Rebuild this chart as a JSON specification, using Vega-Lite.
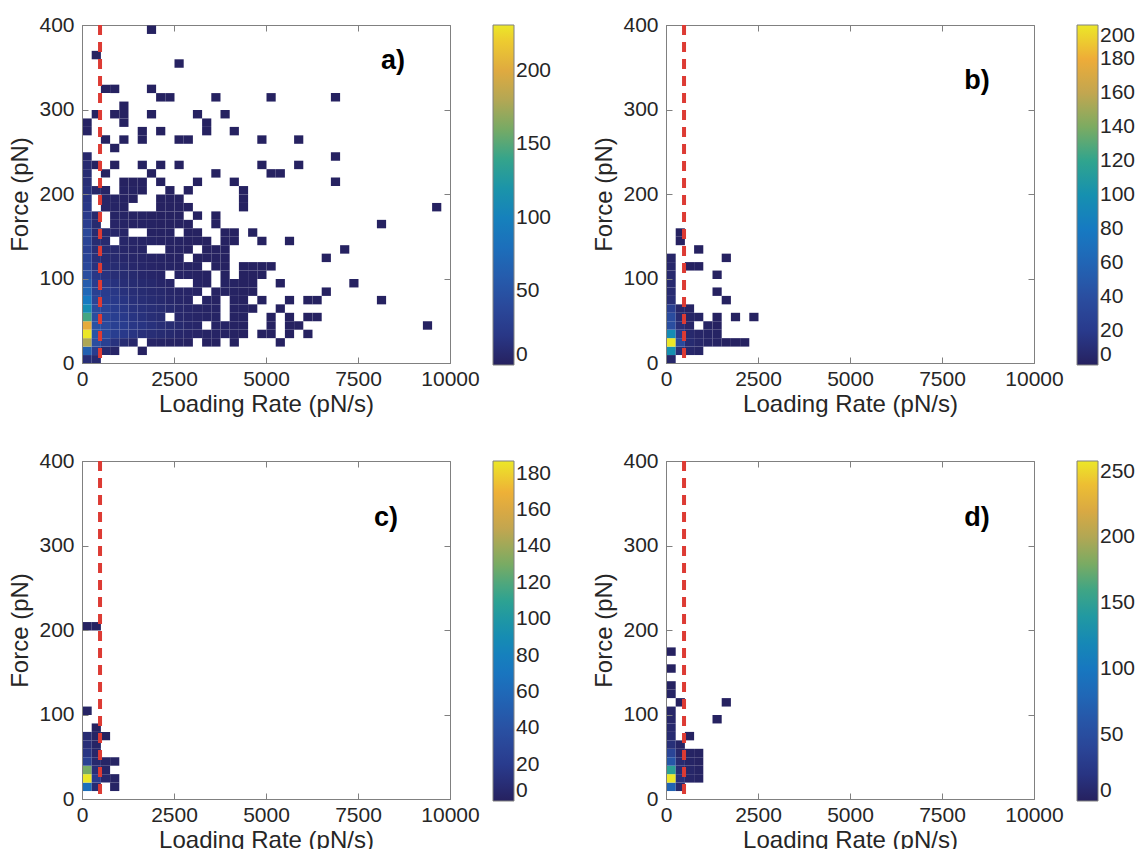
{
"$schema": "https://vega.github.io/schema/vega-lite/v6.json",
"padding": {"left": 8, "top": 13, "right": 0, "bottom": 0},
"background": "white",
"datasets": {
"a": [
{"x":0,"y":0,"n":12},{"x":250,"y":0,"n":8},
{"x":0,"y":10,"n":65},{"x":250,"y":10,"n":25},{"x":500,"y":10,"n":8},{"x":750,"y":10,"n":4},{"x":1500,"y":10,"n":1},
{"x":0,"y":20,"n":178},{"x":250,"y":20,"n":45},{"x":500,"y":20,"n":30},{"x":750,"y":20,"n":16},{"x":1000,"y":20,"n":10},{"x":1250,"y":20,"n":6},{"x":1750,"y":20,"n":4},{"x":2000,"y":20,"n":3},{"x":2250,"y":20,"n":2},{"x":2500,"y":20,"n":2},{"x":2750,"y":20,"n":1},{"x":3250,"y":20,"n":1},{"x":3500,"y":20,"n":1},{"x":4000,"y":20,"n":1},{"x":5250,"y":20,"n":1},
{"x":0,"y":30,"n":231},{"x":250,"y":30,"n":52},{"x":500,"y":30,"n":42},{"x":750,"y":30,"n":28},{"x":1000,"y":30,"n":22},{"x":1250,"y":30,"n":18},{"x":1500,"y":30,"n":14},{"x":1750,"y":30,"n":12},{"x":2000,"y":30,"n":10},{"x":2250,"y":30,"n":8},{"x":2500,"y":30,"n":6},{"x":2750,"y":30,"n":5},{"x":3000,"y":30,"n":4},{"x":3250,"y":30,"n":3},{"x":3500,"y":30,"n":3},{"x":3750,"y":30,"n":2},{"x":4000,"y":30,"n":2},{"x":4250,"y":30,"n":1},{"x":4750,"y":30,"n":1},{"x":5000,"y":30,"n":1},{"x":5500,"y":30,"n":1},{"x":6000,"y":30,"n":1},
{"x":0,"y":40,"n":203},{"x":250,"y":40,"n":48},{"x":500,"y":40,"n":40},{"x":750,"y":40,"n":30},{"x":1000,"y":40,"n":25},{"x":1250,"y":40,"n":20},{"x":1500,"y":40,"n":18},{"x":1750,"y":40,"n":15},{"x":2000,"y":40,"n":12},{"x":2250,"y":40,"n":10},{"x":2500,"y":40,"n":8},{"x":2750,"y":40,"n":6},{"x":3000,"y":40,"n":5},{"x":3500,"y":40,"n":3},{"x":3750,"y":40,"n":3},{"x":4000,"y":40,"n":2},{"x":4250,"y":40,"n":2},{"x":5000,"y":40,"n":1},{"x":5500,"y":40,"n":1},{"x":5750,"y":40,"n":1},{"x":9250,"y":40,"n":1},
{"x":0,"y":50,"n":145},{"x":250,"y":50,"n":45},{"x":500,"y":50,"n":35},{"x":750,"y":50,"n":28},{"x":1000,"y":50,"n":22},{"x":1250,"y":50,"n":18},{"x":1500,"y":50,"n":15},{"x":1750,"y":50,"n":12},{"x":2000,"y":50,"n":10},{"x":2500,"y":50,"n":6},{"x":2750,"y":50,"n":5},{"x":3000,"y":50,"n":4},{"x":3250,"y":50,"n":3},{"x":3500,"y":50,"n":3},{"x":4000,"y":50,"n":2},{"x":4250,"y":50,"n":2},{"x":5000,"y":50,"n":1},{"x":5500,"y":50,"n":1},{"x":6000,"y":50,"n":1},{"x":6250,"y":50,"n":1},
{"x":0,"y":60,"n":112},{"x":250,"y":60,"n":42},{"x":500,"y":60,"n":35},{"x":750,"y":60,"n":25},{"x":1000,"y":60,"n":20},{"x":1250,"y":60,"n":16},{"x":1500,"y":60,"n":14},{"x":1750,"y":60,"n":12},{"x":2000,"y":60,"n":10},{"x":2250,"y":60,"n":8},{"x":2500,"y":60,"n":6},{"x":2750,"y":60,"n":5},{"x":3000,"y":60,"n":4},{"x":3250,"y":60,"n":3},{"x":3500,"y":60,"n":3},{"x":4000,"y":60,"n":2},{"x":4250,"y":60,"n":2},{"x":4500,"y":60,"n":1},{"x":5250,"y":60,"n":1},
{"x":0,"y":70,"n":92},{"x":250,"y":70,"n":35},{"x":500,"y":70,"n":28},{"x":750,"y":70,"n":22},{"x":1000,"y":70,"n":18},{"x":1250,"y":70,"n":14},{"x":1500,"y":70,"n":12},{"x":1750,"y":70,"n":10},{"x":2000,"y":70,"n":8},{"x":2250,"y":70,"n":6},{"x":2500,"y":70,"n":5},{"x":2750,"y":70,"n":4},{"x":3250,"y":70,"n":3},{"x":3500,"y":70,"n":2},{"x":4000,"y":70,"n":2},{"x":4250,"y":70,"n":1},{"x":4750,"y":70,"n":1},{"x":5500,"y":70,"n":1},{"x":6000,"y":70,"n":1},{"x":6250,"y":70,"n":1},{"x":8000,"y":70,"n":1},
{"x":0,"y":80,"n":72},{"x":250,"y":80,"n":30},{"x":500,"y":80,"n":25},{"x":750,"y":80,"n":20},{"x":1000,"y":80,"n":15},{"x":1250,"y":80,"n":12},{"x":1500,"y":80,"n":10},{"x":1750,"y":80,"n":8},{"x":2000,"y":80,"n":7},{"x":2250,"y":80,"n":5},{"x":2500,"y":80,"n":4},{"x":2750,"y":80,"n":4},{"x":3000,"y":80,"n":3},{"x":3500,"y":80,"n":2},{"x":3750,"y":80,"n":2},{"x":4000,"y":80,"n":2},{"x":4250,"y":80,"n":1},{"x":4500,"y":80,"n":1},{"x":6500,"y":80,"n":1},
{"x":0,"y":90,"n":60},{"x":250,"y":90,"n":25},{"x":500,"y":90,"n":20},{"x":750,"y":90,"n":16},{"x":1000,"y":90,"n":12},{"x":1250,"y":90,"n":10},{"x":1500,"y":90,"n":8},{"x":1750,"y":90,"n":7},{"x":2000,"y":90,"n":5},{"x":2250,"y":90,"n":4},{"x":3000,"y":90,"n":3},{"x":3250,"y":90,"n":2},{"x":3750,"y":90,"n":2},{"x":4000,"y":90,"n":2},{"x":4250,"y":90,"n":1},{"x":4500,"y":90,"n":1},{"x":5250,"y":90,"n":1},{"x":7250,"y":90,"n":1},
{"x":0,"y":100,"n":45},{"x":250,"y":100,"n":20},{"x":500,"y":100,"n":16},{"x":750,"y":100,"n":12},{"x":1000,"y":100,"n":10},{"x":1250,"y":100,"n":8},{"x":1500,"y":100,"n":6},{"x":1750,"y":100,"n":5},{"x":2000,"y":100,"n":4},{"x":2500,"y":100,"n":3},{"x":2750,"y":100,"n":3},{"x":3000,"y":100,"n":2},{"x":3250,"y":100,"n":2},{"x":3750,"y":100,"n":1},{"x":4250,"y":100,"n":1},{"x":4500,"y":100,"n":1},{"x":4750,"y":100,"n":1},
{"x":0,"y":110,"n":38},{"x":250,"y":110,"n":16},{"x":500,"y":110,"n":12},{"x":750,"y":110,"n":10},{"x":1000,"y":110,"n":8},{"x":1250,"y":110,"n":6},{"x":1500,"y":110,"n":5},{"x":1750,"y":110,"n":4},{"x":2000,"y":110,"n":3},{"x":2250,"y":110,"n":3},{"x":2500,"y":110,"n":2},{"x":2750,"y":110,"n":2},{"x":3000,"y":110,"n":2},{"x":3500,"y":110,"n":1},{"x":3750,"y":110,"n":1},{"x":4250,"y":110,"n":1},{"x":4500,"y":110,"n":1},{"x":4750,"y":110,"n":1},{"x":5000,"y":110,"n":1},
{"x":0,"y":120,"n":33},{"x":250,"y":120,"n":14},{"x":500,"y":120,"n":10},{"x":750,"y":120,"n":8},{"x":1000,"y":120,"n":6},{"x":1250,"y":120,"n":5},{"x":1500,"y":120,"n":4},{"x":1750,"y":120,"n":3},{"x":2000,"y":120,"n":3},{"x":2250,"y":120,"n":2},{"x":2500,"y":120,"n":2},{"x":3000,"y":120,"n":1},{"x":3250,"y":120,"n":1},{"x":3500,"y":120,"n":1},{"x":3750,"y":120,"n":1},{"x":6500,"y":120,"n":1},
{"x":0,"y":130,"n":30},{"x":250,"y":130,"n":12},{"x":500,"y":130,"n":9},{"x":750,"y":130,"n":7},{"x":1000,"y":130,"n":5},{"x":1250,"y":130,"n":4},{"x":1500,"y":130,"n":3},{"x":2250,"y":130,"n":2},{"x":2500,"y":130,"n":2},{"x":2750,"y":130,"n":1},{"x":3250,"y":130,"n":1},{"x":3500,"y":130,"n":1},{"x":3750,"y":130,"n":1},{"x":7000,"y":130,"n":1},
{"x":0,"y":140,"n":33},{"x":250,"y":140,"n":10},{"x":500,"y":140,"n":8},{"x":1000,"y":140,"n":5},{"x":1250,"y":140,"n":4},{"x":1500,"y":140,"n":3},{"x":1750,"y":140,"n":3},{"x":2000,"y":140,"n":2},{"x":2250,"y":140,"n":2},{"x":2500,"y":140,"n":2},{"x":2750,"y":140,"n":1},{"x":3000,"y":140,"n":1},{"x":3250,"y":140,"n":1},{"x":3750,"y":140,"n":1},{"x":4000,"y":140,"n":1},{"x":4750,"y":140,"n":1},{"x":5500,"y":140,"n":1},
{"x":0,"y":150,"n":38},{"x":250,"y":150,"n":9},{"x":500,"y":150,"n":7},{"x":750,"y":150,"n":5},{"x":1000,"y":150,"n":4},{"x":1750,"y":150,"n":2},{"x":2000,"y":150,"n":2},{"x":2250,"y":150,"n":2},{"x":2750,"y":150,"n":1},{"x":3000,"y":150,"n":1},{"x":3750,"y":150,"n":1},{"x":4000,"y":150,"n":1},{"x":4500,"y":150,"n":1},
{"x":0,"y":160,"n":25},{"x":250,"y":160,"n":8},{"x":750,"y":160,"n":4},{"x":1000,"y":160,"n":3},{"x":1250,"y":160,"n":2},{"x":1500,"y":160,"n":2},{"x":1750,"y":160,"n":2},{"x":2000,"y":160,"n":1},{"x":2250,"y":160,"n":1},{"x":2500,"y":160,"n":1},{"x":2750,"y":160,"n":1},{"x":3500,"y":160,"n":1},{"x":8000,"y":160,"n":1},
{"x":0,"y":170,"n":22},{"x":250,"y":170,"n":7},{"x":750,"y":170,"n":3},{"x":1000,"y":170,"n":3},{"x":1250,"y":170,"n":2},{"x":1500,"y":170,"n":2},{"x":1750,"y":170,"n":1},{"x":2000,"y":170,"n":1},{"x":2250,"y":170,"n":1},{"x":2500,"y":170,"n":1},{"x":3000,"y":170,"n":1},{"x":3500,"y":170,"n":1},
{"x":0,"y":180,"n":20},{"x":500,"y":180,"n":4},{"x":750,"y":180,"n":3},{"x":1000,"y":180,"n":2},{"x":2000,"y":180,"n":1},{"x":2250,"y":180,"n":1},{"x":2500,"y":180,"n":1},{"x":2750,"y":180,"n":1},{"x":4250,"y":180,"n":1},{"x":9500,"y":180,"n":1},
{"x":0,"y":190,"n":18},{"x":500,"y":190,"n":4},{"x":750,"y":190,"n":3},{"x":1000,"y":190,"n":2},{"x":1250,"y":190,"n":1},{"x":2000,"y":190,"n":1},{"x":2250,"y":190,"n":1},{"x":2500,"y":190,"n":1},{"x":4250,"y":190,"n":1},
{"x":0,"y":200,"n":15},{"x":250,"y":200,"n":5},{"x":500,"y":200,"n":3},{"x":1000,"y":200,"n":2},{"x":1250,"y":200,"n":2},{"x":1500,"y":200,"n":1},{"x":2250,"y":200,"n":1},{"x":2750,"y":200,"n":1},{"x":4250,"y":200,"n":1},
{"x":0,"y":210,"n":12},{"x":1000,"y":210,"n":1},{"x":1250,"y":210,"n":1},{"x":1500,"y":210,"n":1},{"x":2000,"y":210,"n":1},{"x":3000,"y":210,"n":1},{"x":4000,"y":210,"n":1},{"x":6750,"y":210,"n":1},
{"x":0,"y":220,"n":10},{"x":500,"y":220,"n":1},{"x":1750,"y":220,"n":1},{"x":3500,"y":220,"n":1},{"x":5000,"y":220,"n":1},{"x":5250,"y":220,"n":1},
{"x":0,"y":230,"n":8},{"x":250,"y":230,"n":1},{"x":750,"y":230,"n":1},{"x":1500,"y":230,"n":1},{"x":2000,"y":230,"n":1},{"x":2500,"y":230,"n":1},{"x":4750,"y":230,"n":1},{"x":5750,"y":230,"n":1},
{"x":0,"y":240,"n":6},{"x":6750,"y":240,"n":1},
{"x":750,"y":250,"n":1},
{"x":500,"y":260,"n":1},{"x":1000,"y":260,"n":1},{"x":1500,"y":260,"n":1},{"x":2500,"y":260,"n":1},{"x":2750,"y":260,"n":1},{"x":4750,"y":260,"n":1},{"x":5750,"y":260,"n":1},
{"x":0,"y":270,"n":2},{"x":1500,"y":270,"n":1},{"x":2000,"y":270,"n":1},{"x":3250,"y":270,"n":1},{"x":4000,"y":270,"n":1},
{"x":0,"y":280,"n":2},{"x":1000,"y":280,"n":1},{"x":3250,"y":280,"n":1},
{"x":250,"y":290,"n":1},{"x":750,"y":290,"n":1},{"x":1000,"y":290,"n":1},{"x":1750,"y":290,"n":1},{"x":3000,"y":290,"n":1},{"x":3750,"y":290,"n":1},
{"x":1000,"y":300,"n":1},
{"x":2000,"y":310,"n":1},{"x":2250,"y":310,"n":1},{"x":3500,"y":310,"n":1},{"x":5000,"y":310,"n":1},{"x":6750,"y":310,"n":1},
{"x":500,"y":320,"n":1},{"x":750,"y":320,"n":1},{"x":1750,"y":320,"n":1},
{"x":2500,"y":350,"n":1},
{"x":250,"y":360,"n":1},
{"x":1750,"y":390,"n":1}
],
"b": [
{"x":0,"y":0,"n":5},
{"x":0,"y":10,"n":100},{"x":250,"y":10,"n":10},{"x":500,"y":10,"n":5},{"x":750,"y":10,"n":3},
{"x":0,"y":20,"n":200},{"x":250,"y":20,"n":35},{"x":500,"y":20,"n":8},{"x":750,"y":20,"n":5},{"x":1000,"y":20,"n":3},{"x":1250,"y":20,"n":2},{"x":1500,"y":20,"n":1},{"x":1750,"y":20,"n":1},{"x":2000,"y":20,"n":1},
{"x":0,"y":30,"n":95},{"x":250,"y":30,"n":20},{"x":500,"y":30,"n":6},{"x":750,"y":30,"n":4},{"x":1000,"y":30,"n":3},{"x":1250,"y":30,"n":2},
{"x":0,"y":40,"n":40},{"x":250,"y":40,"n":10},{"x":500,"y":40,"n":4},{"x":1000,"y":40,"n":2},{"x":1250,"y":40,"n":1},
{"x":0,"y":50,"n":38},{"x":250,"y":50,"n":8},{"x":500,"y":50,"n":3},{"x":750,"y":50,"n":2},{"x":1250,"y":50,"n":1},{"x":1750,"y":50,"n":1},{"x":2250,"y":50,"n":1},
{"x":0,"y":60,"n":25},{"x":250,"y":60,"n":5},{"x":500,"y":60,"n":2},
{"x":0,"y":70,"n":10},{"x":1500,"y":70,"n":1},
{"x":0,"y":80,"n":8},{"x":1250,"y":80,"n":1},
{"x":0,"y":90,"n":7},
{"x":0,"y":100,"n":6},{"x":1250,"y":100,"n":1},
{"x":0,"y":110,"n":5},{"x":500,"y":110,"n":1},{"x":750,"y":110,"n":1},
{"x":0,"y":120,"n":4},{"x":1500,"y":120,"n":1},
{"x":750,"y":130,"n":1},
{"x":250,"y":140,"n":1},
{"x":250,"y":150,"n":1}
],
"c": [
{"x":0,"y":10,"n":65},{"x":250,"y":10,"n":8},{"x":750,"y":10,"n":2},
{"x":0,"y":20,"n":187},{"x":250,"y":20,"n":20},{"x":500,"y":20,"n":5},{"x":750,"y":20,"n":2},
{"x":0,"y":30,"n":130},{"x":250,"y":30,"n":10},{"x":500,"y":30,"n":3},
{"x":0,"y":40,"n":25},{"x":250,"y":40,"n":6},{"x":500,"y":40,"n":3},{"x":750,"y":40,"n":2},
{"x":0,"y":50,"n":15},{"x":250,"y":50,"n":4},
{"x":0,"y":60,"n":10},{"x":250,"y":60,"n":3},
{"x":0,"y":70,"n":8},{"x":250,"y":70,"n":2},{"x":500,"y":70,"n":1},
{"x":250,"y":80,"n":1},
{"x":0,"y":100,"n":2},
{"x":0,"y":200,"n":1},{"x":250,"y":200,"n":1}
],
"d": [
{"x":0,"y":10,"n":75},{"x":250,"y":10,"n":8},
{"x":0,"y":20,"n":258},{"x":250,"y":20,"n":15},{"x":500,"y":20,"n":5},{"x":750,"y":20,"n":3},
{"x":0,"y":30,"n":150},{"x":250,"y":30,"n":12},{"x":500,"y":30,"n":6},{"x":750,"y":30,"n":3},
{"x":0,"y":40,"n":62},{"x":250,"y":40,"n":10},{"x":500,"y":40,"n":4},{"x":750,"y":40,"n":2},
{"x":0,"y":50,"n":40},{"x":250,"y":50,"n":6},{"x":500,"y":50,"n":3},{"x":750,"y":50,"n":2},
{"x":0,"y":60,"n":15},{"x":250,"y":60,"n":3},
{"x":0,"y":70,"n":10},{"x":500,"y":70,"n":1},
{"x":0,"y":80,"n":8},
{"x":0,"y":90,"n":6},{"x":1250,"y":90,"n":1},
{"x":0,"y":100,"n":5},
{"x":250,"y":110,"n":1},{"x":1500,"y":110,"n":1},
{"x":0,"y":120,"n":3},
{"x":0,"y":130,"n":2},
{"x":0,"y":150,"n":1},
{"x":0,"y":170,"n":1}
],
"rule": [{"r": 490}]
},
"config": {
"font": "Liberation Sans",
"view": {"stroke": "#808080", "strokeWidth": 1},
"axis": {"labelFont": "Liberation Sans", "titleFont": "Liberation Sans", "labelFontSize": 21, "titleFontSize": 24, "titleFontWeight": "normal", "labelColor": "#262626", "titleColor": "#262626", "domainColor": "#808080", "tickColor": "#808080", "tickSize": -6, "grid": false, "labelFlush": false, "labelOverlap": false},
"axisX": {"labelPadding": 11, "titlePadding": 3},
"axisY": {"labelPadding": 14, "titlePadding": 6},
"legend": {"orient": "right", "offset": 42, "gradientLength": 340, "gradientThickness": 21, "labelFontSize": 21, "labelFont": "Liberation Sans", "labelColor": "#262626", "gradientStrokeColor": "#808080", "gradientStrokeWidth": 1, "labelOffset": 6, "labelBaseline": "middle", "padding": 0, "titleFontSize": 1, "labelOverlap": false}
},
"columns": 2,
"spacing": {"row": 32, "column": 39},
"resolve": {"scale": {"color": "independent", "x": "independent", "y": "independent"}, "legend": {"color": "independent"}},
"concat": [
{"width": 368, "height": 338, "resolve": {"axis": {"x": "independent", "y": "independent"}}, "layer": [
 {"data": {"name": "a"}, "mark": {"type": "rect", "binSpacing": 0},
  "encoding": {
   "x": {"field": "x", "type": "quantitative", "bin": {"binned": true, "step": 250}, "scale": {"domain": [0, 10000], "nice": false, "zero": false}, "axis": {"values": [0, 2500, 5000, 7500, 10000], "format": "d"}, "title": "Loading Rate (pN/s)"},
   "y": {"field": "y", "type": "quantitative", "bin": {"binned": true, "step": 10}, "scale": {"domain": [0, 400], "nice": false, "zero": false}, "axis": {"values": [0, 100, 200, 300, 400]}, "title": "Force (pN)"},
   "color": {"field": "n", "type": "quantitative", "title": null, "scale": {"domain": [0, 23.1, 46.2, 69.3, 92.4, 115.5, 138.6, 161.7, 184.8, 207.9, 231], "range": ["#26215f", "#293a8c", "#2a4ea0", "#2165b5", "#167ac2", "#1690b0", "#30a48e", "#7cab62", "#c2a650", "#eeac38", "#ece728"], "interpolate": "rgb"}, "legend": {"values": [0, 50, 100, 150, 200], "format": "d"}}
  }},
 {"data": {"name": "rule"}, "mark": {"type": "rule", "color": "#dd3b34", "strokeWidth": 4, "strokeDash": [10, 7]}, "encoding": {"x": {"field": "r", "type": "quantitative", "title": null, "axis": {"orient": "top", "labels": false, "domain": false, "values": [0, 2500, 5000, 7500, 10000]}}}},
 {"data": {"values": [{"t": "a)", "lx": 8450, "ly": 357}]}, "mark": {"type": "text", "fontSize": 27, "fontWeight": "bold", "color": "#000000", "font": "Liberation Sans"}, "encoding": {"x": {"field": "lx", "type": "quantitative", "axis": null}, "y": {"field": "ly", "type": "quantitative", "title": null, "axis": {"orient": "right", "labels": false, "domain": false, "values": [0, 100, 200, 300, 400]}}, "text": {"field": "t"}}}
]},
{"width": 368, "height": 338, "resolve": {"axis": {"x": "independent", "y": "independent"}}, "layer": [
 {"data": {"name": "b"}, "mark": {"type": "rect", "binSpacing": 0},
  "encoding": {
   "x": {"field": "x", "type": "quantitative", "bin": {"binned": true, "step": 250}, "scale": {"domain": [0, 10000], "nice": false, "zero": false}, "axis": {"values": [0, 2500, 5000, 7500, 10000], "format": "d"}, "title": "Loading Rate (pN/s)"},
   "y": {"field": "y", "type": "quantitative", "bin": {"binned": true, "step": 10}, "scale": {"domain": [0, 400], "nice": false, "zero": false}, "axis": {"values": [0, 100, 200, 300, 400]}, "title": "Force (pN)"},
   "color": {"field": "n", "type": "quantitative", "title": null, "scale": {"domain": [0, 20, 40, 60, 80, 100, 120, 140, 160, 180, 200], "range": ["#26215f", "#293a8c", "#2a4ea0", "#2165b5", "#167ac2", "#1690b0", "#30a48e", "#7cab62", "#c2a650", "#eeac38", "#ece728"], "interpolate": "rgb"}, "legend": {"values": [0, 20, 40, 60, 80, 100, 120, 140, 160, 180, 200], "format": "d"}}
  }},
 {"data": {"name": "rule"}, "mark": {"type": "rule", "color": "#dd3b34", "strokeWidth": 4, "strokeDash": [10, 7]}, "encoding": {"x": {"field": "r", "type": "quantitative", "title": null, "axis": {"orient": "top", "labels": false, "domain": false, "values": [0, 2500, 5000, 7500, 10000]}}}},
 {"data": {"values": [{"t": "b)", "lx": 8450, "ly": 334}]}, "mark": {"type": "text", "fontSize": 27, "fontWeight": "bold", "color": "#000000", "font": "Liberation Sans"}, "encoding": {"x": {"field": "lx", "type": "quantitative", "axis": null}, "y": {"field": "ly", "type": "quantitative", "title": null, "axis": {"orient": "right", "labels": false, "domain": false, "values": [0, 100, 200, 300, 400]}}, "text": {"field": "t"}}}
]},
{"width": 368, "height": 338, "resolve": {"axis": {"x": "independent", "y": "independent"}}, "layer": [
 {"data": {"name": "c"}, "mark": {"type": "rect", "binSpacing": 0},
  "encoding": {
   "x": {"field": "x", "type": "quantitative", "bin": {"binned": true, "step": 250}, "scale": {"domain": [0, 10000], "nice": false, "zero": false}, "axis": {"values": [0, 2500, 5000, 7500, 10000], "format": "d"}, "title": "Loading Rate (pN/s)"},
   "y": {"field": "y", "type": "quantitative", "bin": {"binned": true, "step": 10}, "scale": {"domain": [0, 400], "nice": false, "zero": false}, "axis": {"values": [0, 100, 200, 300, 400]}, "title": "Force (pN)"},
   "color": {"field": "n", "type": "quantitative", "title": null, "scale": {"domain": [0, 18.7, 37.4, 56.1, 74.8, 93.5, 112.2, 130.9, 149.6, 168.3, 187], "range": ["#26215f", "#293a8c", "#2a4ea0", "#2165b5", "#167ac2", "#1690b0", "#30a48e", "#7cab62", "#c2a650", "#eeac38", "#ece728"], "interpolate": "rgb"}, "legend": {"values": [0, 20, 40, 60, 80, 100, 120, 140, 160, 180], "format": "d"}}
  }},
 {"data": {"name": "rule"}, "mark": {"type": "rule", "color": "#dd3b34", "strokeWidth": 4, "strokeDash": [10, 7]}, "encoding": {"x": {"field": "r", "type": "quantitative", "title": null, "axis": {"orient": "top", "labels": false, "domain": false, "values": [0, 2500, 5000, 7500, 10000]}}}},
 {"data": {"values": [{"t": "c)", "lx": 8260, "ly": 332}]}, "mark": {"type": "text", "fontSize": 27, "fontWeight": "bold", "color": "#000000", "font": "Liberation Sans"}, "encoding": {"x": {"field": "lx", "type": "quantitative", "axis": null}, "y": {"field": "ly", "type": "quantitative", "title": null, "axis": {"orient": "right", "labels": false, "domain": false, "values": [0, 100, 200, 300, 400]}}, "text": {"field": "t"}}}
]},
{"width": 368, "height": 338, "resolve": {"axis": {"x": "independent", "y": "independent"}}, "layer": [
 {"data": {"name": "d"}, "mark": {"type": "rect", "binSpacing": 0},
  "encoding": {
   "x": {"field": "x", "type": "quantitative", "bin": {"binned": true, "step": 250}, "scale": {"domain": [0, 10000], "nice": false, "zero": false}, "axis": {"values": [0, 2500, 5000, 7500, 10000], "format": "d"}, "title": "Loading Rate (pN/s)"},
   "y": {"field": "y", "type": "quantitative", "bin": {"binned": true, "step": 10}, "scale": {"domain": [0, 400], "nice": false, "zero": false}, "axis": {"values": [0, 100, 200, 300, 400]}, "title": "Force (pN)"},
   "color": {"field": "n", "type": "quantitative", "title": null, "scale": {"domain": [0, 25.8, 51.6, 77.4, 103.2, 129, 154.8, 180.6, 206.4, 232.2, 258], "range": ["#26215f", "#293a8c", "#2a4ea0", "#2165b5", "#167ac2", "#1690b0", "#30a48e", "#7cab62", "#c2a650", "#eeac38", "#ece728"], "interpolate": "rgb"}, "legend": {"values": [0, 50, 100, 150, 200, 250], "format": "d"}}
  }},
 {"data": {"name": "rule"}, "mark": {"type": "rule", "color": "#dd3b34", "strokeWidth": 4, "strokeDash": [10, 7]}, "encoding": {"x": {"field": "r", "type": "quantitative", "title": null, "axis": {"orient": "top", "labels": false, "domain": false, "values": [0, 2500, 5000, 7500, 10000]}}}},
 {"data": {"values": [{"t": "d)", "lx": 8450, "ly": 332}]}, "mark": {"type": "text", "fontSize": 27, "fontWeight": "bold", "color": "#000000", "font": "Liberation Sans"}, "encoding": {"x": {"field": "lx", "type": "quantitative", "axis": null}, "y": {"field": "ly", "type": "quantitative", "title": null, "axis": {"orient": "right", "labels": false, "domain": false, "values": [0, 100, 200, 300, 400]}}, "text": {"field": "t"}}}
]}
]
}
